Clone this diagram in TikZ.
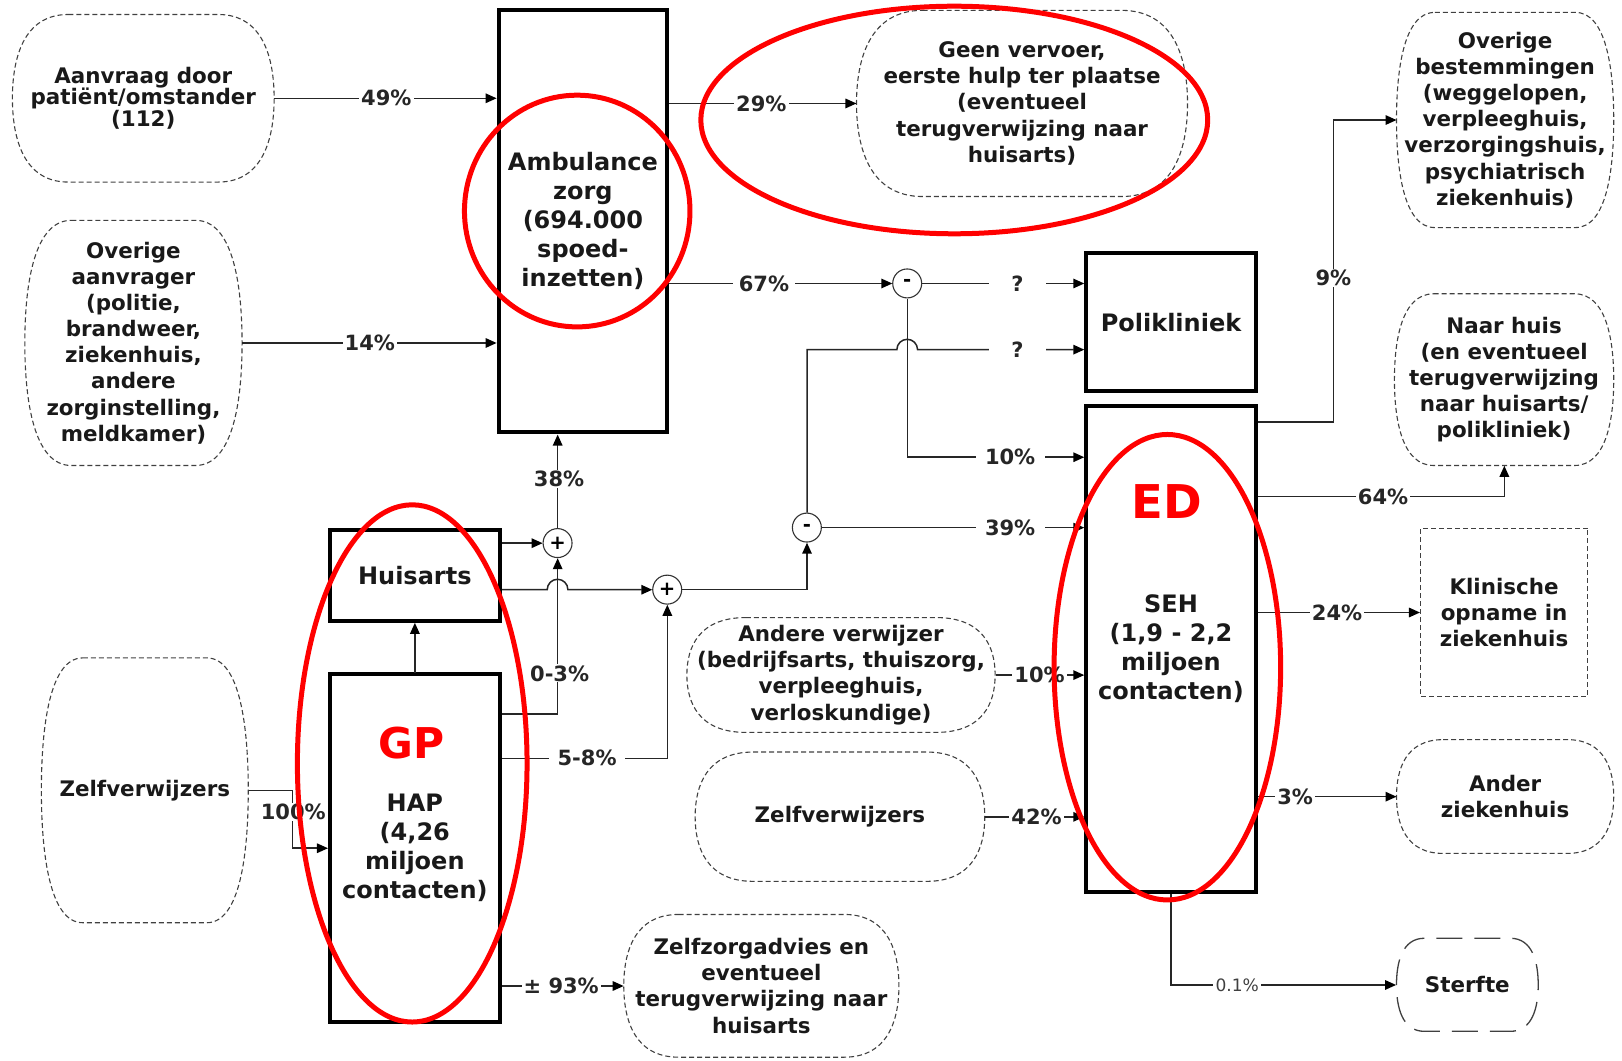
\documentclass[tikz,border=0pt]{standalone}
\usepackage{fontspec}
\setmainfont{DejaVu Sans}
\usetikzlibrary{arrows.meta}
% blob: [opts]{name}{cx}{cy}{w}{h}{corner inset}{text}
\newcommand\blobnode[8][]{%
  \node[blobtext, minimum width=#5pt, minimum height=#6pt, #1] (#2) at (#3,#4) {#8};
  \pgfmathsetmacro\bL{#3-#5/2}\pgfmathsetmacro\bR{#3+#5/2}%
  \pgfmathsetmacro\bT{#4-#6/2}\pgfmathsetmacro\bB{#4+#6/2}%
  \pgfmathsetmacro\bA{#7}\pgfmathsetmacro\bK{0.8*#7}\pgfmathsetmacro\bM{0.26*#6}%
  \draw[blobln, #1] (\bL+\bA,\bT) -- (\bR-\bA,\bT)
    .. controls (\bR-\bA+\bK,\bT) and (\bR,\bT+\bM) .. (\bR,#4)
    .. controls (\bR,\bB-\bM) and (\bR-\bA+\bK,\bB) .. (\bR-\bA,\bB)
    -- (\bL+\bA,\bB)
    .. controls (\bL+\bA-\bK,\bB) and (\bL,\bB-\bM) .. (\bL,#4)
    .. controls (\bL,\bT+\bM) and (\bL+\bA-\bK,\bT) .. (\bL+\bA,\bT) -- cycle;}
\begin{document}
\begin{tikzpicture}[x=1pt,y=-1pt,scale=1.0345,
  every node/.append style={transform shape},
  ln/.style={draw=black!85, line width=1.5pt},
  arr/.style={ln, -{Triangle[length=11pt,width=9.5pt,color=black]}},
  blobln/.style={draw=black!75, line width=1.1pt, dash pattern=on 5pt off 3pt},
  blobtext/.style={align=center, inner sep=0pt, text=black!90,
    font=\bfseries\fontsize{20.7}{25.3}\selectfont},
  box/.style={draw=black, line width=4pt, align=center, inner sep=0pt, text=black!90,
    font=\bfseries\fontsize{23.2}{28}\selectfont},
  lab/.style={fill=white, inner xsep=2pt, inner ysep=1pt, text=black!85,
    font=\bfseries\fontsize{20.3}{21}\selectfont},
  qlab/.style={lab, inner xsep=22pt},
  op/.style={circle, draw=black!80, line width=1.1pt, fill=white, minimum size=28pt,
    inner sep=0pt, font=\bfseries\fontsize{19}{19}\selectfont},
  redt/.style={text=red, font=\bfseries\fontsize{#1}{#1}\selectfont},
  redring/.style={draw=red, line width=5pt}
]
\useasboundingbox (0,0) rectangle (1568,1025);

% ---------- nodes ----------
\blobnode[font=\bfseries\fontsize{20.7}{21}\selectfont]{aanv}{138.5}{95}{253}{162}{54}
  {Aanvraag door\\patiënt/omstander\\(112)}
\blobnode{overige}{129}{331.5}{210}{237}{45}
  {Overige\\aanvrager\\(politie,\\brandweer,\\ziekenhuis,\\andere\\zorginstelling,\\meldkamer)}
\node[box, minimum width=163pt, minimum height=408pt] (amb) at (563.5,214)
  {Ambulance\\zorg\\(694.000\\spoed-\\inzetten)};
\blobnode{geen}{988}{100}{320}{180}{64}
  {Geen vervoer,\\eerste hulp ter plaatse\\(eventueel\\terugverwijzing naar\\huisarts)}
\blobnode{bestem}{1455}{116}{210}{208}{37}
  {Overige\\bestemmingen\\(weggelopen,\\verpleeghuis,\\verzorgingshuis,\\psychiatrisch\\ziekenhuis)}
\node[box, minimum width=164pt, minimum height=133pt] (poli) at (1132,311.5) {Polikliniek};
\node[box, minimum width=164pt, minimum height=470pt] (seh) at (1132,627)
  {SEH\\(1,9 - 2,2\\miljoen\\contacten)};
\blobnode{naarhuis}{1454}{367}{212}{166}{38}
  {Naar huis\\(en eventueel\\terugverwijzing\\naar huisarts/\\polikliniek)}
\node[blobtext, blobln, minimum width=162pt, minimum height=162pt] (klin) at (1454,592)
  {Klinische\\opname in\\ziekenhuis};
\blobnode{ander}{1455}{770}{210}{110}{45}{Ander\\ziekenhuis}
\blobnode[dash pattern=on 26pt off 12pt, dash phase=-12pt, line width=1.3pt]{sterfte}{1418.5}{952}{137}{90}{27}{Sterfte}
\node[box, minimum width=164pt, minimum height=88pt] (huis) at (401,556) {Huisarts};
\node[box, minimum width=164pt, minimum height=336pt] (hap) at (401,820)
  {HAP\\(4,26\\miljoen\\contacten)};
\blobnode{zelfL}{140}{764}{200}{256}{40}{Zelfverwijzers}
\blobnode{andere}{813}{652.5}{298}{111}{57}
  {Andere verwijzer\\(bedrijfsarts, thuiszorg,\\verpleeghuis,\\verloskundige)}
\blobnode{zelfM}{812}{789.5}{280}{125}{56}{Zelfverwijzers}
\blobnode{zelfzorg}{736}{953}{266}{138}{53}
  {Zelfzorgadvies en\\eventueel\\terugverwijzing naar\\huisarts}

\node[op] (plus1) at (539,525) {+};
\node[op] (plus2) at (645,570) {+};
\node[op] (minus1) at (780,510) {-};
\node[op] (minus2) at (877,274) {-};

% ---------- connectors ----------
\draw[arr] (aanv.east) -- (aanv.east -| amb.west);
\draw[arr] (overige.east) -- (overige.east -| amb.west);
\draw[arr] (amb.east |- geen.west) -- (geen.west);
\draw[arr] (amb.east |- minus2.west) -- (minus2.west);
\draw[arr] (minus2.east) -- (minus2.east -| poli.west);
\draw[arr] (minus1.north) |- (867,338) arc[start angle=180,end angle=0,radius=10pt]
  -- (poli.west |- 0,338);
\draw[arr] (minus2.south) |- (seh.west |- 0,442);
\draw[arr] (minus1.east) -- (minus1.east -| seh.west);
\draw[arr] (plus1.north) -- (plus1.north |- amb.south);
\draw[arr] (huis.east |- plus1.west) -- (plus1.west);
\draw[arr] (huis.east |- plus2.west) -- (529,570) arc[start angle=180,end angle=0,radius=10pt]
  -- (plus2.west);
\draw[arr] (plus2.east) -| (minus1.south);
\draw[arr] (hap.east |- 0,690) -| (plus1.south);
\draw[arr] (hap.east |- 0,733) -| (plus2.south);
\draw[arr] (hap.north) -- (huis.south);
\draw[arr] (zelfL.east) -| (283,820) -- (hap.west |- 0,820);
\draw[arr] (hap.east |- zelfzorg.west) -- (zelfzorg.west);
\draw[arr] (andere.east) -- (andere.east -| seh.west);
\draw[arr] (zelfM.east) -- (zelfM.east -| seh.west);
\draw[arr] (seh.east |- 0,408) -- (1289,408) |- (bestem.west);
\draw[arr] (seh.east |- 0,480) -| (naarhuis.south);
\draw[arr] (seh.east |- klin.west) -- (klin.west);
\draw[arr] (seh.east |- ander.west) -- (ander.west);
\draw[arr] (seh.south) |- (sterfte.west);

% ---------- labels ----------
\node[lab] (l49) at (373.5,0 |- aanv.east) {49\%};
\node[lab] (l14) at (357.5,0 |- overige.east) {14\%};
\node[lab] (l29) at (736,0 |- geen.west) {29\%};
\node[lab, inner xsep=6pt] (l67) at (738.5,0 |- minus2.west) {67\%};
\node[qlab] (q1) at (983.5,0 |- minus2.east) {?};
\node[qlab] (q2) at (983.5,338) {?};
\node[lab, inner xsep=9pt] (l10a) at (976.5,442) {10\%};
\node[lab, inner xsep=9pt] (l39) at (976.5,0 |- minus1.east) {39\%};
\node[lab] (l38) at (540.5,463) {38\%};
\node[lab] (l03) at (541,651) {0-3\%};
\node[lab, inner xsep=8pt] (l58) at (567.5,733) {5-8\%};
\node[lab] (l100) at (283.5,785) {100\%};
\node[lab] (l93) at (542.5,0 |- zelfzorg.west) {± 93\%};
\node[lab] (l10b) at (1005,0 |- andere.east) {10\%};
\node[lab] (l42) at (1002,0 |- zelfM.east) {42\%};
\node[lab] (l9) at (1289,269) {9\%};
\node[lab] (l64) at (1337,480) {64\%};
\node[lab] (l24) at (1292.5,0 |- klin.west) {24\%};
\node[lab] (l3) at (1252,0 |- ander.west) {3\%};
\node[lab, font=\fontsize{16.5}{17}\selectfont, text=black!75] (l01) at (1196,0 |- sterfte.west) {0.1\%};

% ---------- red annotations ----------
\node[redt=41] (gp) at (398,718) {GP};
\node[redt=45] (ed) at (1128,485) {ED};
\draw[redring] (558,204) ellipse [x radius=109, y radius=112];
\draw[redring] (922.5,116) ellipse [x radius=245, y radius=110];
\draw[redring] (398.5,738) ellipse [x radius=111, y radius=250];
\draw[redring] (1128.5,645) ellipse [x radius=109.5, y radius=225];
\end{tikzpicture}
\end{document}
